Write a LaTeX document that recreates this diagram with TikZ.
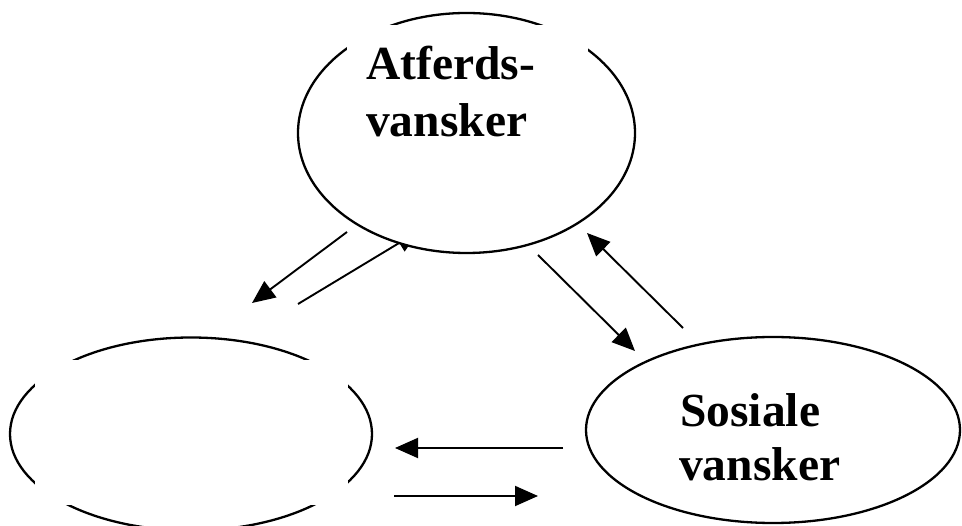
\documentclass[tikz,border=0pt]{standalone}
\usepackage{fontspec}
\setmainfont{Liberation Serif}
\usetikzlibrary{arrows.meta,shapes.geometric}

\tikzset{
  blob/.style={ellipse, draw=black, fill=white, line width=2.3pt, inner sep=0pt},
  label/.style={anchor=base west, inner sep=0pt, font=\bfseries\fontsize{47.5}{57}\selectfont},
  link/.style={line width=1.9pt, -{Triangle[length=23pt,width=20pt]}},
  mask/.style={fill=white}
}

\begin{document}
\begin{tikzpicture}[x=1pt, y=-1pt]
\useasboundingbox (0,0) rectangle (962,526);

% end points of the six connectors
\coordinate (tl-s) at (347,232);  \coordinate (tl-e) at (252,303);
\coordinate (lt-s) at (298,304);  \coordinate (lt-e) at (419,231);
\coordinate (tr-s) at (538,255);  \coordinate (tr-e) at (635,351);
\coordinate (rt-s) at (683,328);  \coordinate (rt-e) at (587,233);
\coordinate (rl-s) at (563,448);  \coordinate (rl-e) at (395,448);
\coordinate (lr-s) at (394,496);  \coordinate (lr-e) at (538,496);

% connectors (drawn first, so the ellipses cover their hidden ends)
\draw[link] (tl-s) -- (tl-e);
\draw[link] (lt-s) -- (lt-e);
\draw[link] (tr-s) -- (tr-e);
\draw[link] (rt-s) -- (rt-e);
\draw[link] (rl-s) -- (rl-e);
\draw[link] (lr-s) -- (lr-e);

% the three ellipses
\node[blob, minimum width=337pt, minimum height=240pt] (atf) at (466.5,133) {};
\node[blob, minimum width=362pt, minimum height=193pt] (left) at (191,434) {};
\node[blob, minimum width=374pt, minimum height=186pt] (sos) at (773,430) {};

% white text boxes lying over the ellipse outlines
\fill[mask] (347,25) rectangle (588,150);
\fill[mask] (35,360) rectangle (348,505);

% labels
\node[label] (atf1) at (366,80) {Atferds-};
\node[label] (atf2) at (366,137) {vansker};
\node[label] (sos1) at (680,427) {Sosiale};
\node[label] (sos2) at (679,481) {vansker};
\end{tikzpicture}
\end{document}
